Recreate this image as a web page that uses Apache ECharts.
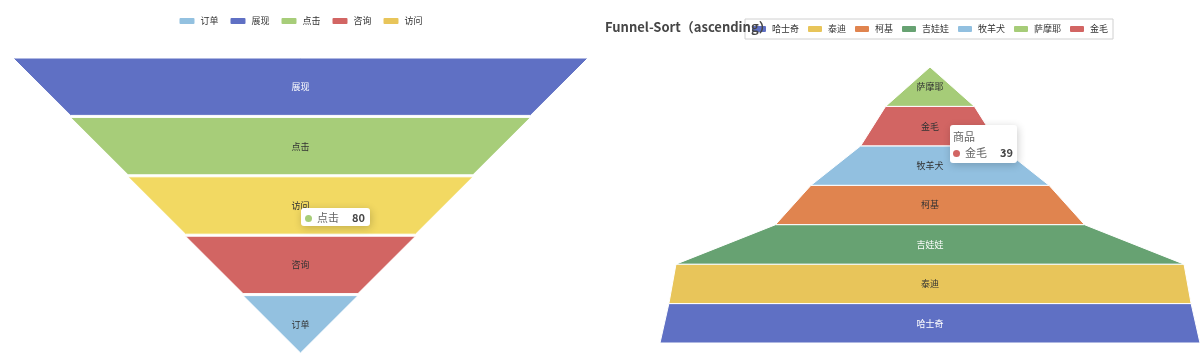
<!DOCTYPE html>
<html><head><meta charset="utf-8">
<script src="https://cdn.jsdelivr.net/npm/echarts@6/dist/echarts.min.js"></script>
<style>html,body{margin:0;padding:0;background:#fff;overflow:hidden}#l,#r{position:absolute;top:0;width:600px;height:361px}#l{left:0}#r{left:600px}</style>
</head><body><div id="l"></div><div id="r"></div>
<script>
const leftNames = ['订单', '展现', '点击', '咨询', '访问'];
const leftValues = [20, 100, 80, 40, 60];
const leftColors = ['#93c1e0', '#5f70c4', '#a7cd79', '#d26563', '#f2d962'];
const leftLegendColors = ['#93c1e0', '#5f70c4', '#a7cd79', '#d26563', '#e8c55a'];

const rightTitle = 'Funnel-Sort（ascending）';
const rightSeriesName = '商品';
const rightNames = ['哈士奇', '泰迪', '柯基', '吉娃娃', '牧羊犬', '萨摩耶', '金毛'];
const rightValues = [152, 147, 87, 143, 67, 25, 39];
const rightColors = ['#5f70c4', '#e8c55a', '#e0844f', '#67a272', '#92c0e0', '#a6cc78', '#d26563'];

const FONT = "'Noto Sans CJK SC', 'Noto Sans', sans-serif";
const whiteLabelFills = ['#5f70c4', '#67a272'];

function row(p, gap) {
  return '<div style="line-height:14px;white-space:nowrap">' +
    '<span style="display:inline-block;width:7px;height:7px;border-radius:50%;background:' + p.color + ';margin-right:5px;vertical-align:0px"></span>' +
    '<span style="color:#666">' + p.name + '</span>' +
    '<span style="float:right;margin-left:' + gap + 'px;font-weight:bold;color:#464646">' + p.value + '</span></div>';
}

const tipBase = {
  trigger: 'item', triggerOn: 'none', alwaysShowContent: true, transitionDuration: 0,
  backgroundColor: '#fff', borderWidth: 0,
  extraCssText: 'box-shadow: rgba(0,0,0,0.2) 1px 2px 8px;border-radius:3px;',
  textStyle: { fontFamily: FONT, fontSize: 11, color: '#666' }
};

function labelColor(c) { return whiteLabelFills.indexOf(c) >= 0 ? '#fff' : '#333'; }

const lc = echarts.init(document.getElementById('l'));
lc.setOption({
  animation: false,
  tooltip: Object.assign({}, tipBase, { position: [301, 208], padding: [2, 5, 2, 4], formatter: p => row(p, 13) }),
  legend: {
    top: 16, left: 'center', padding: 0, itemGap: 10, itemWidth: 17, itemHeight: 8,
    textStyle: { fontFamily: FONT, fontSize: 9, color: '#333' },
    data: leftNames.map((n, i) => ({ name: n, itemStyle: { color: leftLegendColors[i] } }))
  },
  series: [{
    type: 'funnel', left: 13, top: 58, width: 575, height: 295,
    min: 0, max: 100, minSize: '0%', maxSize: '100%', sort: 'descending', gap: 2,
    label: { show: true, position: 'inside', fontFamily: FONT, fontSize: 9 },
    itemStyle: { borderColor: '#fff', borderWidth: 1 },
    data: leftNames.map((n, i) => ({ name: n, value: leftValues[i],
      itemStyle: { color: leftColors[i] }, label: { color: labelColor(leftColors[i]) } }))
  }]
});
lc.dispatchAction({ type: 'showTip', seriesIndex: 0, dataIndex: 2 });

const rc = echarts.init(document.getElementById('r'));
rc.setOption({
  animation: false,
  title: { text: rightTitle, left: 5, top: 21, padding: 0,
    textStyle: { fontFamily: FONT, fontSize: 13, fontWeight: 'bold', color: '#464646' } },
  tooltip: Object.assign({}, tipBase, { position: [350, 125], padding: [4, 4, 4, 3],
    formatter: p => '<div style="color:#666;line-height:14px;margin-bottom:2px">' + p.seriesName + '</div>' + row(p, 13) }),
  legend: {
    top: 19, left: 145, padding: [5, 5], itemGap: 7, itemWidth: 16, itemHeight: 8,
    borderColor: '#d0d0d0', borderWidth: 1,
    textStyle: { fontFamily: FONT, fontSize: 9, color: '#333' },
    data: rightNames
  },
  series: [{
    name: rightSeriesName, type: 'funnel', left: 60, top: 67, width: 540, height: 276,
    min: 0, max: 152, minSize: '0%', maxSize: '100%', sort: 'ascending', gap: 0,
    label: { show: true, position: 'inside', fontFamily: FONT, fontSize: 9 },
    itemStyle: { borderColor: '#fff', borderWidth: 1 },
    data: rightNames.map((n, i) => ({ name: n, value: rightValues[i],
      itemStyle: { color: rightColors[i] }, label: { color: labelColor(rightColors[i]) } }))
  }]
});
rc.dispatchAction({ type: 'showTip', seriesIndex: 0, dataIndex: 6 });
</script></body></html>
